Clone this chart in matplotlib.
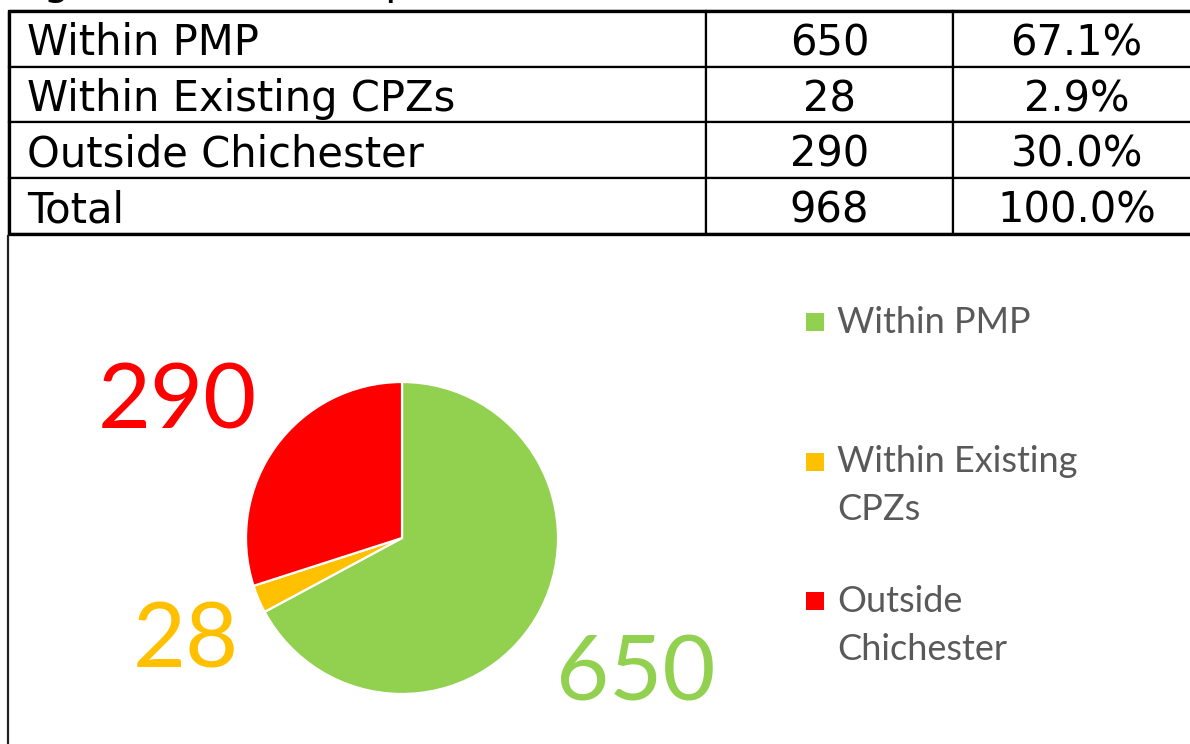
import textwrap

import matplotlib
matplotlib.use("Agg")
import matplotlib.pyplot as plt
from matplotlib.patches import Rectangle

# данные
categories = ["Within PMP", "Within Existing CPZs", "Outside Chichester"]
counts = [650, 28, 290]
colors = ["#92D050", "#FFC000", "#FF0000"]
caption = "Figure 6 Resident postcodes"

total = sum(counts)
percents = ["{:.1f}%".format(c / total * 100) for c in counts]

W, H = 1190, 744
fig = plt.figure(figsize=(W / 100, H / 100), dpi=100)

# вспомогательная ось во весь рисунок, координаты в пикселях
over = fig.add_axes([0, 0, 1, 1])
over.set_xlim(0, W)
over.set_ylim(H, 0)
over.axis("off")

# подпись сверху, видны только хвосты букв (как в оригинале)
over.text(11, -5.6, caption, fontsize=30, family="DejaVu Sans",
          va="baseline", ha="left", color="black")

# таблица
rows = [[c, str(n), p] for c, n, p in zip(categories, counts, percents)]
rows.append(["Total", str(total), "100.0%"])

tx0, tx1, ty0, ty1 = 9, 1200, 11, 234
tab = over.table(cellText=rows, cellLoc="center", colWidths=[697, 247, 247],
                 bbox=[tx0 / W, 1 - ty1 / H, (tx1 - tx0) / W, (ty1 - ty0) / H])
tab.auto_set_font_size(False)
tab.set_fontsize(30)
for (r, c), cell in tab.get_celld().items():
    cell.set_linewidth(1.6)
    cell.set_edgecolor("black")
    cell.get_text().set_family("DejaVu Sans")
    cell.get_text().set_va("center_baseline")
    if c == 0:
        cell.get_text().set_ha("left")
        cell.PAD = 18 / 697
over.add_patch(Rectangle((tx0, ty0), tx1 - tx0, ty1 - ty0, fill=False,
                         lw=2.4, edgecolor="black", clip_on=False))

# рамка диаграммы слева
over.plot([7.5, 7.5], [236, H], color="#222222", lw=1.6)

# круговая диаграмма
cx, cy, rad = 402, 538, 156
ax = fig.add_axes([(cx - rad) / W, 1 - (cy + rad) / H, 2 * rad / W, 2 * rad / H])
wedges, _ = ax.pie(counts, colors=colors, startangle=90, counterclock=False,
                   wedgeprops=dict(edgecolor="white", linewidth=1.6))
ax.set_xlim(-1, 1)
ax.set_ylim(-1, 1)

# подписи значений (смещение базовой линии в радиусах)
label_offsets = [(1.50, -1.04), (-1.385, -0.833), (-1.442, 0.705)]
for n, col, (dx, dy) in zip(counts, colors, label_offsets):
    ax.text(dx, dy, str(n), color=col, fontsize=66, family="Lato",
            ha="center", va="baseline", clip_on=False)

# легенда
leg_x, leg_y0, leg_step, line_step = 806, 333, 139.5, 48
for i, (name, col) in enumerate(zip(categories, colors)):
    base = leg_y0 + i * leg_step
    over.add_patch(Rectangle((leg_x, base - 20), 18, 18, facecolor=col,
                             edgecolor="none"))
    for j, line in enumerate(textwrap.wrap(name, 15)):
        over.text(leg_x + 31, base + j * line_step, line, fontsize=26,
                  family="Lato", color="#595959", va="baseline", ha="left")

fig.savefig("out.png", dpi=100)
